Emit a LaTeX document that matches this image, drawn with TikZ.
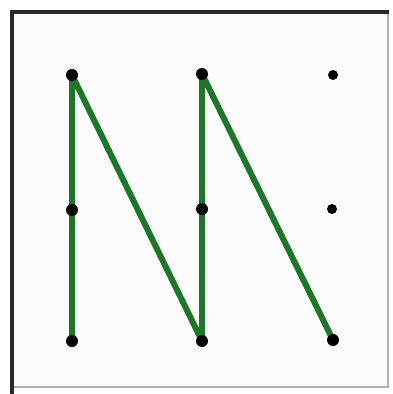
\documentclass[tikz,border=0pt]{standalone}
\definecolor{lgreen}{RGB}{28,120,40}
\definecolor{frameedge}{RGB}{40,40,40}
\definecolor{frameedgelight}{RGB}{175,175,175}
\tikzset{
  dot/.style={circle,fill=black,inner sep=0pt,minimum size=12pt},
  stroke/.style={draw=lgreen,line width=6pt,line join=round,line cap=round}
}
\begin{document}
\begin{tikzpicture}[x=1pt,y=-1pt]
\useasboundingbox[fill=white] (0,0) rectangle (393,394);
\fill[white!97!gray] (13,13) rectangle (388,387);
\draw[frameedgelight,line width=2pt] (388,12) -- (388,387) -- (12,387);
\draw[frameedge,line width=3.5pt] (12,394) -- (12,12) -- (389,12);
\coordinate (p11) at (72,75);
\coordinate (p12) at (202,74);
\coordinate (p13) at (333,75);
\coordinate (p21) at (72,210);
\coordinate (p22) at (202,209);
\coordinate (p23) at (332,209);
\coordinate (p31) at (72,341);
\coordinate (p32) at (202,341);
\coordinate (p33) at (333,340);
\draw[stroke] (p31) -- (p11) -- (p32) -- (p12) -- (p33);
\foreach \p in {p11,p12,p21,p22,p31,p32,p33}
  \node[dot] (d\p) at (\p) {};
\node[dot,minimum size=10pt] (dp13) at (p13) {};
\node[dot,minimum size=10pt] (dp23) at (p23) {};
\end{tikzpicture}
\end{document}
